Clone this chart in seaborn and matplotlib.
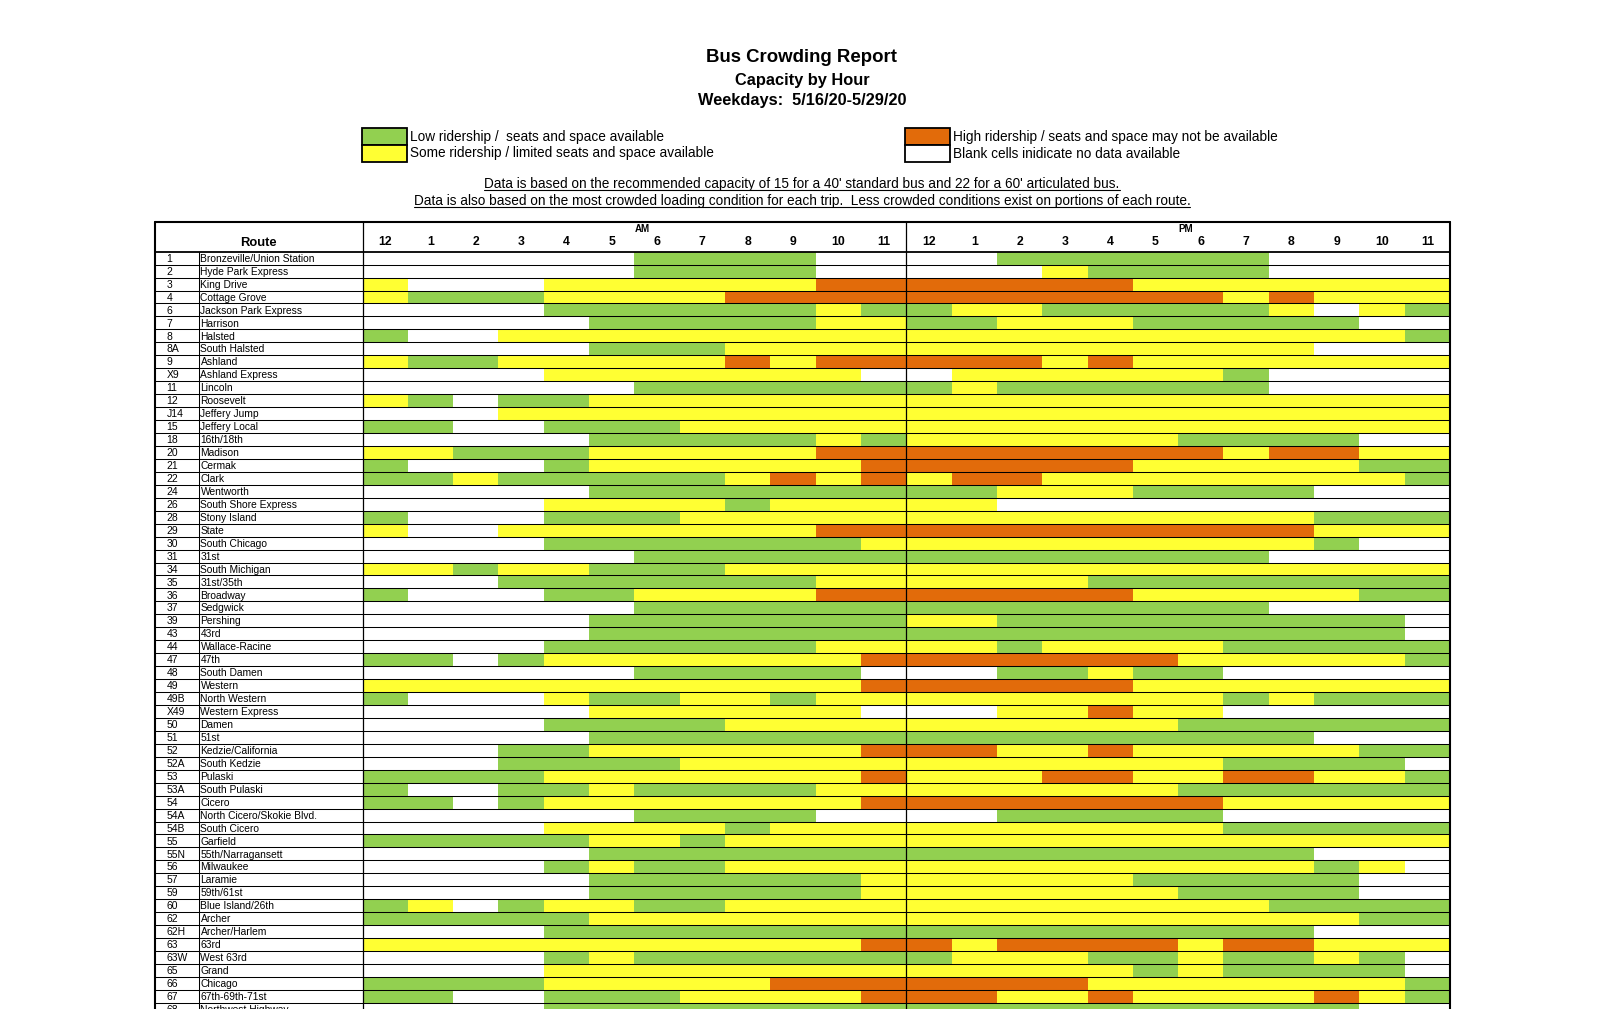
import numpy as np
import matplotlib.pyplot as plt
import seaborn as sns
from matplotlib.colors import ListedColormap
from matplotlib.lines import Line2D
from matplotlib.patches import Rectangle
from matplotlib.transforms import blended_transform_factory

# 0 = no data, 1 = low, 2 = some, 3 = high ridership
level_colors = ['#FFFFFF', '#92D050', '#FFFF33', '#E26B0A']

hour_labels = ['12', '1', '2', '3', '4', '5', '6', '7', '8', '9', '10', '11',
               '12', '1', '2', '3', '4', '5', '6', '7', '8', '9', '10', '11']

route_ids = ['1', '2', '3', '4', '6', '7', '8', '8A', '9', 'X9', '11', '12', 'J14', '15',
             '18', '20', '21', '22', '24', '26', '28', '29', '30', '31', '34', '35', '36',
             '37', '39', '43', '44', '47', '48', '49', '49B', 'X49', '50', '51', '52', '52A',
             '53', '53A', '54', '54A', '54B', '55', '55N', '56', '57', '59', '60', '62',
             '62H', '63', '63W', '65', '66', '67', '68']

route_names = ['Bronzeville/Union Station', 'Hyde Park Express', 'King Drive', 'Cottage Grove',
               'Jackson Park Express', 'Harrison', 'Halsted', 'South Halsted', 'Ashland',
               'Ashland Express', 'Lincoln', 'Roosevelt', 'Jeffery Jump', 'Jeffery Local',
               '16th/18th', 'Madison', 'Cermak', 'Clark', 'Wentworth', 'South Shore Express',
               'Stony Island', 'State', 'South Chicago', '31st', 'South Michigan', '31st/35th',
               'Broadway', 'Sedgwick', 'Pershing', '43rd', 'Wallace-Racine', '47th',
               'South Damen', 'Western', 'North Western', 'Western Express', 'Damen', '51st',
               'Kedzie/California', 'South Kedzie', 'Pulaski', 'South Pulaski', 'Cicero',
               'North Cicero/Skokie Blvd.', 'South Cicero', 'Garfield', '55th/Narragansett',
               'Milwaukee', 'Laramie', '59th/61st', 'Blue Island/26th', 'Archer',
               'Archer/Harlem', '63rd', 'West 63rd', 'Grand', 'Chicago', '67th-69th-71st',
               'Northwest Highway']

#            12 1  2  3  4  5  6  7  8  9 10 11  12 1  2  3  4  5  6  7  8  9 10 11
levels = [
    [0, 0, 0, 0, 0, 0, 1, 1, 1, 1, 0, 0, 0, 0, 1, 1, 1, 1, 1, 1, 0, 0, 0, 0],  # 1
    [0, 0, 0, 0, 0, 0, 1, 1, 1, 1, 0, 0, 0, 0, 0, 2, 1, 1, 1, 1, 0, 0, 0, 0],  # 2
    [2, 0, 0, 0, 2, 2, 2, 2, 2, 2, 3, 3, 3, 3, 3, 3, 3, 2, 2, 2, 2, 2, 2, 2],  # 3
    [2, 1, 1, 1, 2, 2, 2, 2, 3, 3, 3, 3, 3, 3, 3, 3, 3, 3, 3, 2, 3, 2, 2, 2],  # 4
    [0, 0, 0, 0, 1, 1, 1, 1, 1, 1, 2, 1, 1, 2, 2, 1, 1, 1, 1, 1, 2, 0, 2, 1],  # 6
    [0, 0, 0, 0, 0, 1, 1, 1, 1, 1, 2, 2, 1, 1, 2, 2, 2, 1, 1, 1, 1, 1, 0, 0],  # 7
    [1, 0, 0, 2, 2, 2, 2, 2, 2, 2, 2, 2, 2, 2, 2, 2, 2, 2, 2, 2, 2, 2, 2, 1],  # 8
    [0, 0, 0, 0, 0, 1, 1, 1, 2, 2, 2, 2, 2, 2, 2, 2, 2, 2, 2, 2, 2, 0, 0, 0],  # 8A
    [2, 1, 1, 2, 2, 2, 2, 2, 3, 2, 3, 3, 3, 3, 3, 2, 3, 2, 2, 2, 2, 2, 2, 2],  # 9
    [0, 0, 0, 0, 2, 2, 2, 2, 2, 2, 2, 0, 0, 2, 2, 2, 2, 2, 2, 1, 0, 0, 0, 0],  # X9
    [0, 0, 0, 0, 0, 0, 1, 1, 1, 1, 1, 1, 1, 2, 1, 1, 1, 1, 1, 1, 0, 0, 0, 0],  # 11
    [2, 1, 0, 1, 1, 2, 2, 2, 2, 2, 2, 2, 2, 2, 2, 2, 2, 2, 2, 2, 2, 2, 2, 2],  # 12
    [0, 0, 0, 2, 2, 2, 2, 2, 2, 2, 2, 2, 2, 2, 2, 2, 2, 2, 2, 2, 2, 2, 2, 2],  # J14
    [1, 1, 0, 0, 1, 1, 1, 2, 2, 2, 2, 2, 2, 2, 2, 2, 2, 2, 2, 2, 2, 2, 2, 2],  # 15
    [0, 0, 0, 0, 0, 1, 1, 1, 1, 1, 2, 1, 2, 2, 2, 2, 2, 2, 1, 1, 1, 1, 0, 0],  # 18
    [2, 2, 1, 1, 1, 2, 2, 2, 2, 2, 3, 3, 3, 3, 3, 3, 3, 3, 3, 2, 3, 3, 2, 2],  # 20
    [1, 0, 0, 0, 1, 2, 2, 2, 2, 2, 2, 3, 3, 3, 3, 3, 3, 2, 2, 2, 2, 2, 1, 1],  # 21
    [1, 1, 2, 1, 1, 1, 1, 1, 2, 3, 2, 3, 2, 3, 3, 2, 2, 2, 2, 2, 2, 2, 2, 1],  # 22
    [0, 0, 0, 0, 0, 1, 1, 1, 1, 1, 1, 1, 1, 1, 2, 2, 2, 1, 1, 1, 1, 0, 0, 0],  # 24
    [0, 0, 0, 0, 2, 2, 2, 2, 1, 2, 2, 2, 2, 2, 0, 0, 0, 0, 0, 0, 0, 0, 0, 0],  # 26
    [1, 0, 0, 0, 1, 1, 1, 2, 2, 2, 2, 2, 2, 2, 2, 2, 2, 2, 2, 2, 2, 1, 1, 1],  # 28
    [2, 0, 0, 2, 2, 2, 2, 2, 2, 2, 3, 3, 3, 3, 3, 3, 3, 3, 3, 3, 3, 2, 2, 2],  # 29
    [0, 0, 0, 0, 1, 1, 1, 1, 1, 1, 1, 2, 2, 2, 2, 2, 2, 2, 2, 2, 2, 1, 0, 0],  # 30
    [0, 0, 0, 0, 0, 0, 1, 1, 1, 1, 1, 1, 1, 1, 1, 1, 1, 1, 1, 1, 0, 0, 0, 0],  # 31
    [2, 2, 1, 2, 2, 1, 1, 1, 2, 2, 2, 2, 2, 2, 2, 2, 2, 2, 2, 2, 2, 2, 2, 2],  # 34
    [0, 0, 0, 1, 1, 1, 1, 1, 1, 1, 2, 2, 2, 2, 2, 2, 1, 1, 1, 1, 1, 1, 1, 1],  # 35
    [1, 0, 0, 0, 1, 1, 2, 2, 2, 2, 3, 3, 3, 3, 3, 3, 3, 2, 2, 2, 2, 2, 1, 1],  # 36
    [0, 0, 0, 0, 0, 0, 1, 1, 1, 1, 1, 1, 1, 1, 1, 1, 1, 1, 1, 1, 0, 0, 0, 0],  # 37
    [0, 0, 0, 0, 0, 1, 1, 1, 1, 1, 1, 1, 2, 2, 1, 1, 1, 1, 1, 1, 1, 1, 1, 0],  # 39
    [0, 0, 0, 0, 0, 1, 1, 1, 1, 1, 1, 1, 1, 1, 1, 1, 1, 1, 1, 1, 1, 1, 1, 0],  # 43
    [0, 0, 0, 0, 1, 1, 1, 1, 1, 1, 2, 2, 2, 2, 1, 2, 2, 2, 2, 1, 1, 1, 1, 1],  # 44
    [1, 1, 0, 1, 2, 2, 2, 2, 2, 2, 2, 3, 3, 3, 3, 3, 3, 3, 2, 2, 2, 2, 2, 1],  # 47
    [0, 0, 0, 0, 0, 0, 1, 1, 1, 1, 1, 0, 0, 0, 1, 1, 2, 1, 1, 0, 0, 0, 0, 0],  # 48
    [2, 2, 2, 2, 2, 2, 2, 2, 2, 2, 2, 3, 3, 3, 3, 3, 3, 2, 2, 2, 2, 2, 2, 2],  # 49
    [1, 0, 0, 0, 2, 1, 1, 2, 2, 1, 2, 2, 2, 2, 2, 2, 2, 2, 2, 1, 2, 1, 1, 1],  # 49B
    [0, 0, 0, 0, 0, 2, 2, 2, 2, 2, 2, 0, 0, 0, 2, 2, 3, 2, 2, 0, 0, 0, 0, 0],  # X49
    [0, 0, 0, 0, 1, 1, 1, 1, 2, 2, 2, 2, 2, 2, 2, 2, 2, 2, 1, 1, 1, 1, 1, 1],  # 50
    [0, 0, 0, 0, 0, 1, 1, 1, 1, 1, 1, 1, 1, 1, 1, 1, 1, 1, 1, 1, 1, 0, 0, 0],  # 51
    [0, 0, 0, 1, 1, 2, 2, 2, 2, 2, 2, 3, 3, 3, 2, 2, 3, 2, 2, 2, 2, 2, 1, 1],  # 52
    [0, 0, 0, 1, 1, 1, 1, 2, 2, 2, 2, 2, 2, 2, 2, 2, 2, 2, 2, 1, 1, 1, 1, 0],  # 52A
    [1, 1, 1, 1, 2, 2, 2, 2, 2, 2, 2, 3, 2, 2, 2, 3, 3, 2, 2, 3, 3, 2, 2, 1],  # 53
    [1, 0, 0, 1, 1, 2, 1, 1, 1, 1, 2, 2, 2, 2, 2, 2, 2, 2, 1, 1, 1, 1, 1, 1],  # 53A
    [1, 1, 0, 1, 2, 2, 2, 2, 2, 2, 2, 3, 3, 3, 3, 3, 3, 3, 3, 2, 2, 2, 2, 2],  # 54
    [0, 0, 0, 0, 0, 0, 1, 1, 1, 1, 0, 0, 0, 0, 1, 1, 1, 1, 1, 0, 0, 0, 0, 0],  # 54A
    [0, 0, 0, 0, 2, 2, 2, 2, 1, 2, 2, 2, 2, 2, 2, 2, 2, 2, 2, 1, 1, 1, 1, 1],  # 54B
    [1, 1, 1, 1, 1, 2, 2, 1, 2, 2, 2, 2, 2, 2, 2, 2, 2, 2, 2, 2, 2, 2, 2, 2],  # 55
    [0, 0, 0, 0, 0, 1, 1, 1, 1, 1, 1, 1, 1, 1, 1, 1, 1, 1, 1, 1, 1, 0, 0, 0],  # 55N
    [0, 0, 0, 0, 1, 2, 1, 1, 2, 2, 2, 2, 2, 2, 2, 2, 2, 2, 2, 2, 2, 1, 2, 0],  # 56
    [0, 0, 0, 0, 0, 1, 1, 1, 1, 1, 1, 2, 2, 2, 2, 2, 2, 1, 1, 1, 1, 1, 0, 0],  # 57
    [0, 0, 0, 0, 0, 1, 1, 1, 1, 1, 1, 2, 2, 2, 2, 2, 2, 2, 1, 1, 1, 1, 0, 0],  # 59
    [1, 2, 0, 1, 2, 2, 1, 1, 2, 2, 2, 2, 2, 2, 2, 2, 2, 2, 2, 2, 1, 1, 1, 1],  # 60
    [1, 1, 1, 1, 1, 2, 2, 2, 2, 2, 2, 2, 2, 2, 2, 2, 2, 2, 2, 2, 2, 2, 1, 1],  # 62
    [0, 0, 0, 0, 1, 1, 1, 1, 1, 1, 1, 1, 1, 1, 1, 1, 1, 1, 1, 1, 1, 0, 0, 0],  # 62H
    [2, 2, 2, 2, 2, 2, 2, 2, 2, 2, 2, 3, 3, 2, 3, 3, 3, 3, 2, 3, 3, 2, 2, 2],  # 63
    [0, 0, 0, 0, 1, 2, 1, 1, 1, 1, 1, 1, 1, 2, 2, 2, 1, 1, 2, 1, 1, 2, 1, 0],  # 63W
    [0, 0, 0, 0, 2, 2, 2, 2, 2, 2, 2, 2, 2, 2, 2, 2, 2, 1, 2, 1, 1, 1, 1, 0],  # 65
    [1, 1, 1, 1, 2, 2, 2, 2, 2, 3, 3, 3, 3, 3, 3, 3, 2, 2, 2, 2, 2, 2, 2, 1],  # 66
    [1, 1, 0, 0, 1, 1, 1, 2, 2, 2, 2, 3, 3, 3, 2, 2, 3, 2, 2, 2, 2, 3, 2, 1],  # 67
    [0, 0, 0, 0, 1, 1, 1, 1, 1, 1, 1, 1, 1, 1, 1, 1, 1, 1, 1, 1, 1, 1, 0, 0],  # 68
]

legend_labels = ['Low ridership /  seats and space available',
                 'Some ridership / limited seats and space available',
                 'High ridership / seats and space may not be available',
                 'Blank cells inidicate no data available']

notes = ["Data is based on the recommended capacity of 15 for a 40' standard bus and 22 for a 60' articulated bus.",
         "Data is also based on the most crowded loading condition for each trip.  Less crowded conditions exist on portions of each route."]

sns.set_theme(style='white')
plt.rcParams['font.family'] = ['Liberation Sans', 'DejaVu Sans']
plt.rcParams['text.color'] = 'black'
plt.rcParams['xtick.color'] = 'black'
plt.rcParams['xtick.labelcolor'] = 'black'

W, H = 1614, 1009
fig = plt.figure(figsize=(W / 100, H / 100), dpi=100)
fig.patch.set_facecolor('white')


def fx(x):
    return x / W


def fy(y):
    return 1 - y / H


# table geometry in pixels
t_left, t_right = 154.5, 1450
t_top, h_bottom = 221.5, 251.7
c_left, ampm = 362.5, 906
num_sep = 198.5
row_h = 12.95
n = len(route_ids)

ax = fig.add_axes([fx(c_left), fy(h_bottom + n * row_h),
                   fx(t_right) - fx(c_left), n * row_h / H])
sns.heatmap(np.array(levels), cmap=ListedColormap(level_colors), vmin=-0.5, vmax=3.5,
            cbar=False, xticklabels=hour_labels, yticklabels=False, ax=ax)
ax.xaxis.tick_top()
ax.tick_params(axis='x', length=0, pad=2.5, labelsize=8.8, rotation=0, labelcolor='black')
for lbl in ax.get_xticklabels():
    lbl.set_fontweight('bold')

# route numbers and names
tr = blended_transform_factory(fig.transFigure, ax.transData)
for i, (rid, name) in enumerate(zip(route_ids, route_names)):
    ax.text(fx(166.5), i + 0.55, rid, transform=tr, va='center', ha='left',
            fontsize=7.5, clip_on=False)
    ax.text(fx(200.5), i + 0.55, name, transform=tr, va='center', ha='left',
            fontsize=7.4, clip_on=False)

# row lines across the whole table
ax.hlines(np.arange(1, n + 1), fx(t_left), fx(t_right), transform=tr,
          colors='black', linewidth=0.75, clip_on=False)


def fig_line(x0, y0, x1, y1, lw):
    fig.add_artist(Line2D([fx(x0), fx(x1)], [fy(y0), fy(y1)],
                          transform=fig.transFigure, color='black', linewidth=lw))


bottom = H + 20
fig_line(t_left, t_top, t_right, t_top, 1.5)
fig_line(t_left, h_bottom, t_right, h_bottom, 1.3)
fig_line(t_left, t_top, t_left, bottom, 1.5)
fig_line(t_right, t_top, t_right, bottom, 1.5)
fig_line(c_left, t_top, c_left, bottom, 0.9)
fig_line(ampm, t_top, ampm, bottom, 0.9)
fig_line(num_sep, h_bottom, num_sep, bottom, 0.75)

# header texts
fig.text(fx(258.5), fy(243.5), 'Route', ha='center', va='center', fontsize=9.4, fontweight='bold')
fig.text(fx(642), fy(229), 'AM', ha='center', va='center', fontsize=7, fontweight='bold')
fig.text(fx(1186), fy(229), 'PM', ha='center', va='center', fontsize=7, fontweight='bold')

# titles
fig.text(fx(802), fy(58), 'Bus Crowding Report', ha='center', va='center',
         fontsize=13.4, fontweight='bold')
fig.text(fx(802), fy(81), 'Capacity by Hour', ha='center', va='center',
         fontsize=11.8, fontweight='bold')
fig.text(fx(802), fy(100.5), 'Weekdays:  5/16/20-5/29/20', ha='center', va='center',
         fontsize=11.8, fontweight='bold')

# legend
box_pos = [(362, 128), (362, 145), (905, 128), (905, 145)]
for (bx, by), col, lab in zip(box_pos, [level_colors[1], level_colors[2], level_colors[3], level_colors[0]],
                              legend_labels):
    fig.add_artist(Rectangle((fx(bx), fy(by + 17)), 45 / W, 17 / H, transform=fig.transFigure,
                             facecolor=col, edgecolor='black', linewidth=1.3))
    fig.text(fx(bx + 48), fy(by + 8.5), lab, ha='left', va='center', fontsize=9.8)

# notes with underline
note_texts = []
for y, txt in zip([184, 201.5], notes):
    note_texts.append(fig.text(fx(802), fy(y), txt, ha='center', va='center', fontsize=9.8))

fig.canvas.draw()
renderer = fig.canvas.get_renderer()
for t, uy in zip(note_texts, [189.5, 207]):
    bb = t.get_window_extent(renderer)
    fig_line(bb.x0, uy, bb.x1, uy, 0.8)

fig.savefig('out.png', dpi=100, facecolor='white')
